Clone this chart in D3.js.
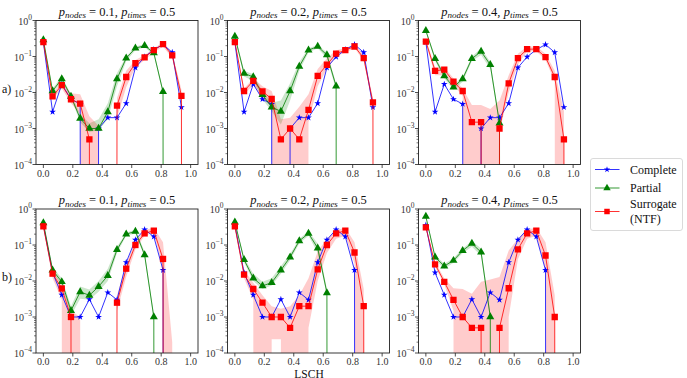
<!DOCTYPE html>
<html>
<head>
<meta charset="utf-8">
<script src="https://cdn.jsdelivr.net/npm/d3@7"></script>
<style>
  body { margin: 0; background: #fff; }
  svg text { font-family: "Liberation Serif", "DejaVu Serif", serif; }
</style>
</head>
<body>
<script>
// x positions: 17 bins of width 1/16
const xs = d3.range(17).map(k => k / 16);
const xTicks = [0, 0.2, 0.4, 0.6, 0.8, 1.0];
const yTicks = [1e-4, 1e-3, 1e-2, 1e-1, 1];
const pNodes = ["0.1", "0.2", "0.4"];
const pTimes = "0.5";
const rowLabels = ["a)", "b)"];

// Complete network (same for every column of a row)
const completeTop = [0.25, 0.0029, 0.017, 0.0065, 0.0048, 0, 0.001, 0.002, 0.002, 0.005, 0.049, 0.098, 0.155, 0.215, 0.13, 0.0039, null];
const completeBottom = [0.36, 0.017, 0.0041, 0.001, 0.001, 0.0031, 0.001, 0.0048, 0.003, 0.033, 0.14, 0.27, 0.17, 0.02, 0, null, null];

// Partial observation, row a
const partialA1 = [0.29, 0.011, 0.024, 0.0078, 0.0019, 0.001, 0.001, 0.0029, 0.024, 0.09, 0.17, 0.2, 0.125, 0.0105, 0, 0, 0];
const partialA1Lo = [0.26, 0.01, 0.02, 0.007, 0.0015, 0.0008, 0.0009, 0.0018, 0.015, 0.075, 0.15, 0.18, 0.11, 0.009, 0, 0, 0];
const partialA1Hi = [0.32, 0.013, 0.028, 0.009, 0.0025, 0.0014, 0.0018, 0.005, 0.035, 0.1, 0.19, 0.22, 0.14, 0.012, 0, 0, 0];
const partialA2 = [0.36, 0.034, 0.027, 0.0087, 0.0039, 0.003, 0.011, 0.053, 0.15, 0.19, 0.11, 0.015, 0, 0, 0, 0, 0];
const partialA2Lo = [0.33, 0.028, 0.021, 0.0065, 0.003, 0.0013, 0.006, 0.04, 0.13, 0.17, 0.09, 0.012, 0, 0, 0, 0, 0];
const partialA2Hi = [0.4, 0.04, 0.032, 0.011, 0.0052, 0.006, 0.018, 0.07, 0.17, 0.21, 0.13, 0.018, 0, 0, 0, 0, 0];
const partialA3 = [0.52, 0.087, 0.029, 0.014, 0.024, 0.087, 0.138, 0.059, 0.0014, 0, 0, 0, 0, 0, 0, 0, 0];
const partialA3Lo = [0.48, 0.075, 0.025, 0.012, 0.02, 0.075, 0.11, 0.045, 0.0012, 0, 0, 0, 0, 0, 0, 0, 0];
const partialA3Hi = [0.56, 0.1, 0.034, 0.016, 0.028, 0.1, 0.17, 0.07, 0.0017, 0, 0, 0, 0, 0, 0, 0, 0];

// Surrogate (NTF), row a
const surrogateA1 = [0.25, 0.0078, 0.016, 0.0065, 0.0049, 0.0005, 0, 0, 0.0043, 0.027, 0.065, 0.095, 0.15, 0.22, 0.107, 0.0081, 0];
const surrogateA1Lo = [0.22, 0.0065, 0.013, 0.005, 0.0025, 0, 0, 0, 0.002, 0.014, 0.05, 0.08, 0.13, 0.19, 0.09, 0.005, 0];
const surrogateA1Hi = [0.28, 0.0095, 0.02, 0.0095, 0.009, 0.0022, 0.0012, 0, 0.007, 0.04, 0.08, 0.11, 0.17, 0.25, 0.13, 0.012, 0];
const surrogateA2 = [0.25, 0.011, 0.021, 0.0107, 0.0066, 0.0005, 0.001, 0.0005, 0.0033, 0.029, 0.059, 0.12, 0.15, 0.19, 0.09, 0.0053, 0];
const surrogateA2Lo = [0.22, 0.009, 0.016, 0.007, 0.004, 0, 0, 0, 0.0015, 0.015, 0.045, 0.1, 0.13, 0.17, 0.075, 0.004, 0];
const surrogateA2Hi = [0.28, 0.013, 0.025, 0.015, 0.011, 0.0018, 0.002, 0.004, 0.009, 0.045, 0.09, 0.15, 0.17, 0.22, 0.11, 0.007, 0];
const surrogateA3 = [0.26, 0.04, 0.043, 0.02, 0.011, 0.0015, 0.0015, 0, 0.001, 0.018, 0.09, 0.16, 0.16, 0.096, 0.027, 0.0005, 0];
const surrogateA3Lo = [0.23, 0.03, 0.03, 0.016, 0.008, 0, 0, 0, 0.0008, 0.01, 0.06, 0.14, 0.14, 0.08, 0.02, 0, 0];
const surrogateA3Hi = [0.3, 0.05, 0.05, 0.025, 0.013, 0.0045, 0.0045, 0.0035, 0.006, 0.03, 0.12, 0.19, 0.19, 0.12, 0.04, 0.003, 0];

// Partial observation, row b
const partialB1 = [0.41, 0.02, 0.0095, 0.0015, 0.005, 0.004, 0.007, 0.014, 0.074, 0.2, 0.24, 0.053, 0.001, 0, 0, 0, 0];
const partialB1Lo = [0.38, 0.017, 0.0075, 0.0011, 0.0032, 0.003, 0.005, 0.01, 0.06, 0.18, 0.21, 0.045, 0.0008, 0, 0, 0, 0];
const partialB1Hi = [0.44, 0.024, 0.012, 0.002, 0.007, 0.0058, 0.01, 0.022, 0.09, 0.22, 0.27, 0.065, 0.0012, 0, 0, 0, 0];
const partialB2 = [0.43, 0.039, 0.012, 0.0073, 0.009, 0.02, 0.046, 0.13, 0.21, 0.082, 0.0047, 0, 0, 0, 0, 0, 0];
const partialB2Lo = [0.4, 0.033, 0.01, 0.006, 0.0075, 0.016, 0.038, 0.11, 0.18, 0.06, 0.004, 0, 0, 0, 0, 0, 0];
const partialB2Hi = [0.46, 0.045, 0.016, 0.0095, 0.012, 0.026, 0.056, 0.15, 0.24, 0.11, 0.006, 0, 0, 0, 0, 0, 0];
const partialB3 = [0.62, 0.046, 0.026, 0.037, 0.07, 0.11, 0.063, 0.001, 0, 0, 0, 0, 0, 0, 0, 0, 0];
const partialB3Lo = [0.58, 0.04, 0.022, 0.032, 0.06, 0.09, 0.05, 0.0008, 0, 0, 0, 0, 0, 0, 0, 0, 0];
const partialB3Hi = [0.66, 0.053, 0.03, 0.043, 0.08, 0.13, 0.08, 0.0013, 0, 0, 0, 0, 0, 0, 0, 0, 0];

// Surrogate (NTF), row b
const surrogateB1 = [0.33, 0.016, 0.0062, 0.001, 0, 0, 0, 0, 0.0025, 0.022, 0.1, 0.21, 0.25, 0.041, 0, 0, 0];
const surrogateB1Lo = [0.29, 0.012, 0.003, 0, 0, 0, 0, 0, 0.0015, 0.013, 0.075, 0.18, 0.22, 0.02, 0, 0, 0];
const surrogateB1Hi = [0.37, 0.02, 0.008, 0.0015, 0.001, 0, 0, 0, 0.004, 0.03, 0.13, 0.26, 0.3, 0.12, 0.0002, 0, 0];
const surrogateB2 = [0.33, 0.015, 0.006, 0.0025, 0.001, 0.001, 0.0005, 0.002, 0.002, 0.021, 0.1, 0.21, 0.25, 0.062, 0.002, 0, 0];
const surrogateB2Lo = [0.29, 0.012, 0.003, 0, 0.00024, 0.00024, 0, 0, 0.0005, 0.01, 0.06, 0.15, 0.18, 0.03, 0, 0, 0];
const surrogateB2Hi = [0.37, 0.02, 0.009, 0.004, 0.002, 0.0017, 0.002, 0.004, 0.012, 0.066, 0.15, 0.26, 0.3, 0.12, 0.006, 0, 0];
const surrogateB3 = [0.31, 0.029, 0.0095, 0.003, 0.001, 0.0005, 0.0005, 0, 0.0005, 0.0063, 0.076, 0.21, 0.25, 0.051, 0.001, 0, 0];
const surrogateB3Lo = [0.28, 0.025, 0.008, 0.0015, 0, 0, 0, 0, 0, 0.001, 0.04, 0.15, 0.18, 0.02, 0, 0, 0];
const surrogateB3Hi = [0.34, 0.034, 0.012, 0.0063, 0.006, 0.0044, 0.0095, 0.011, 0.013, 0.07, 0.15, 0.27, 0.3, 0.12, 0.004, 0, 0];

// zeros go (almost) to -infinity on the log axis, like matplotlib's clipping
const FLOOR = 1e-300;

const panels = [
  { row: 0, col: 0, complete: completeTop, partial: [partialA1, partialA1Lo, partialA1Hi], surrogate: [surrogateA1, surrogateA1Lo, surrogateA1Hi] },
  { row: 0, col: 1, complete: completeTop, partial: [partialA2, partialA2Lo, partialA2Hi], surrogate: [surrogateA2, surrogateA2Lo, surrogateA2Hi] },
  { row: 0, col: 2, complete: completeTop, partial: [partialA3, partialA3Lo, partialA3Hi], surrogate: [surrogateA3, surrogateA3Lo, surrogateA3Hi] },
  { row: 1, col: 0, complete: completeBottom, partial: [partialB1, partialB1Lo, partialB1Hi], surrogate: [surrogateB1, surrogateB1Lo, surrogateB1Hi] },
  { row: 1, col: 1, complete: completeBottom, partial: [partialB2, partialB2Lo, partialB2Hi], surrogate: [surrogateB2, surrogateB2Lo, surrogateB2Hi] },
  { row: 1, col: 2, complete: completeBottom, partial: [partialB3, partialB3Lo, partialB3Hi], surrogate: [surrogateB3, surrogateB3Lo, surrogateB3Hi] }
];

const colLeft = [36, 227.5, 418.5], panelW = 162;
const rowTop = [20.5, 209], panelH = 144;

const BLUE = "#0000ff", GREEN = "#008000", RED = "#ff0000";

const svg = d3.select("body").append("svg")
  .attr("width", 687).attr("height", 378);

function supText(sel, exp) {
  sel.append("tspan").text("10");
  sel.append("tspan").attr("dy", -5).attr("font-size", 7.5).text(exp);
}

panels.forEach((p, i) => {
  const left = colLeft[p.col], top = rowTop[p.row];
  const x = d3.scaleLinear().domain([-0.05, 1.05]).range([left, left + panelW]);
  const y = d3.scaleLog().domain([1e-4, 1]).range([top + panelH, top]);
  const yv = v => y(Math.max(v, FLOOR));

  const g = svg.append("g");
  const clipId = "clip" + i;
  g.append("clipPath").attr("id", clipId).append("rect")
    .attr("x", left).attr("y", top).attr("width", panelW).attr("height", panelH);

  const plot = g.append("g").attr("clip-path", `url(#${clipId})`);

  const band = (lo, hi) => d3.area()
    .x((d, k) => x(xs[k]))
    .y0((d, k) => yv(lo[k]))
    .y1((d, k) => yv(hi[k]))(xs);

  plot.append("path").attr("d", band(p.partial[1], p.partial[2]))
    .attr("fill", GREEN).attr("fill-opacity", 0.2);
  plot.append("path").attr("d", band(p.surrogate[1], p.surrogate[2]))
    .attr("fill", RED).attr("fill-opacity", 0.2);

  const series = [
    { vals: p.complete, color: BLUE, sym: d3.symbolStar, size: 14 },
    { vals: p.partial[0], color: GREEN, sym: d3.symbolTriangle, size: 28 },
    { vals: p.surrogate[0], color: RED, sym: d3.symbolSquare, size: 40 }
  ];

  series.forEach(s => {
    const pts = s.vals.map((v, k) => ({ x: xs[k], v: v }));
    const line = d3.line().defined(d => d.v !== null)
      .x(d => x(d.x)).y(d => yv(d.v));
    plot.append("path").attr("d", line(pts))
      .attr("fill", "none").attr("stroke", s.color)
      .attr("stroke-opacity", 0.8).attr("stroke-width", 1);
    plot.selectAll(null)
      .data(pts.filter(d => d.v !== null && d.v > 0))
      .enter().append("path")
      .attr("d", d3.symbol().type(s.sym).size(s.size))
      .attr("transform", d => `translate(${x(d.x)},${y(d.v)})`)
      .attr("fill", s.color);
  });

  // frame
  g.append("rect").attr("x", left).attr("y", top)
    .attr("width", panelW).attr("height", panelH)
    .attr("fill", "none").attr("stroke", "#222").attr("stroke-width", 0.9);

  // x ticks
  xTicks.forEach(t => {
    g.append("line").attr("x1", x(t)).attr("x2", x(t))
      .attr("y1", top + panelH).attr("y2", top + panelH + 3.5)
      .attr("stroke", "#222").attr("stroke-width", 0.8);
    g.append("text").attr("x", x(t)).attr("y", top + panelH + 12)
      .attr("text-anchor", "middle").attr("font-size", 10).attr("fill", "#333")
      .text(t.toFixed(1));
  });

  // y ticks, major and minor
  yTicks.forEach((t, j) => {
    g.append("line").attr("x1", left - 3.5).attr("x2", left)
      .attr("y1", y(t)).attr("y2", y(t))
      .attr("stroke", "#222").attr("stroke-width", 0.8);
    const exp = Math.round(Math.log10(t));
    const lab = g.append("text").attr("x", left - 4).attr("y", y(t) + 4)
      .attr("text-anchor", "end").attr("font-size", 10).attr("fill", "#333");
    supText(lab, exp === 0 ? "0" : "\u2212" + (-exp));
    if (j < yTicks.length - 1) {
      d3.range(2, 10).forEach(m => {
        g.append("line").attr("x1", left - 2).attr("x2", left)
          .attr("y1", y(t * m)).attr("y2", y(t * m))
          .attr("stroke", "#222").attr("stroke-width", 0.6);
      });
    }
  });

  // title
  const title = g.append("text").attr("x", left + panelW / 2).attr("y", top - 5)
    .attr("text-anchor", "middle").attr("font-size", 12.5).attr("fill", "#111");
  title.append("tspan").attr("font-style", "italic").text("p");
  title.append("tspan").attr("font-style", "italic").attr("font-size", 9).attr("dy", 2.5).text("nodes");
  title.append("tspan").attr("dy", -2.5).text(" = " + pNodes[p.col] + ",  ");
  title.append("tspan").attr("font-style", "italic").text("p");
  title.append("tspan").attr("font-style", "italic").attr("font-size", 9).attr("dy", 2.5).text("times");
  title.append("tspan").attr("dy", -2.5).text(" = " + pTimes);
});

// row labels and x-axis label
rowLabels.forEach((r, i) => {
  svg.append("text").attr("x", 2).attr("y", rowTop[i] + 72).attr("font-size", 12).attr("fill", "#111").text(r);
});
svg.append("text").attr("x", 309).attr("y", 377.5).attr("text-anchor", "middle")
  .attr("font-size", 11.5).attr("fill", "#111").text("LSCH");

// legend
const legend = svg.append("g");
legend.append("rect").attr("x", 590.5).attr("y", 158.5).attr("width", 92).attr("height", 72)
  .attr("rx", 2.5).attr("fill", "#fff").attr("stroke", "#d0d0d0").attr("stroke-width", 0.8);
const legendItems = [
  { label: ["Complete"], color: BLUE, sym: d3.symbolStar, size: 12, y: 169.5 },
  { label: ["Partial"], color: GREEN, sym: d3.symbolTriangle, size: 24, y: 188 },
  { label: ["Surrogate", "(NTF)"], color: RED, sym: d3.symbolSquare, size: 30, y: 211.5 }
];
legendItems.forEach(it => {
  legend.append("line").attr("x1", 595).attr("x2", 619.5).attr("y1", it.y).attr("y2", it.y)
    .attr("stroke", it.color).attr("stroke-opacity", 0.8).attr("stroke-width", 1);
  legend.append("path").attr("d", d3.symbol().type(it.sym).size(it.size))
    .attr("transform", `translate(607,${it.y})`).attr("fill", it.color);
  const n = it.label.length;
  it.label.forEach((l, j) => {
    legend.append("text").attr("x", 630).attr("y", it.y + 4 + (j - (n - 1) / 2) * 15)
      .attr("font-size", 12).attr("fill", "#111").text(l);
  });
});
</script>
</body>
</html>
